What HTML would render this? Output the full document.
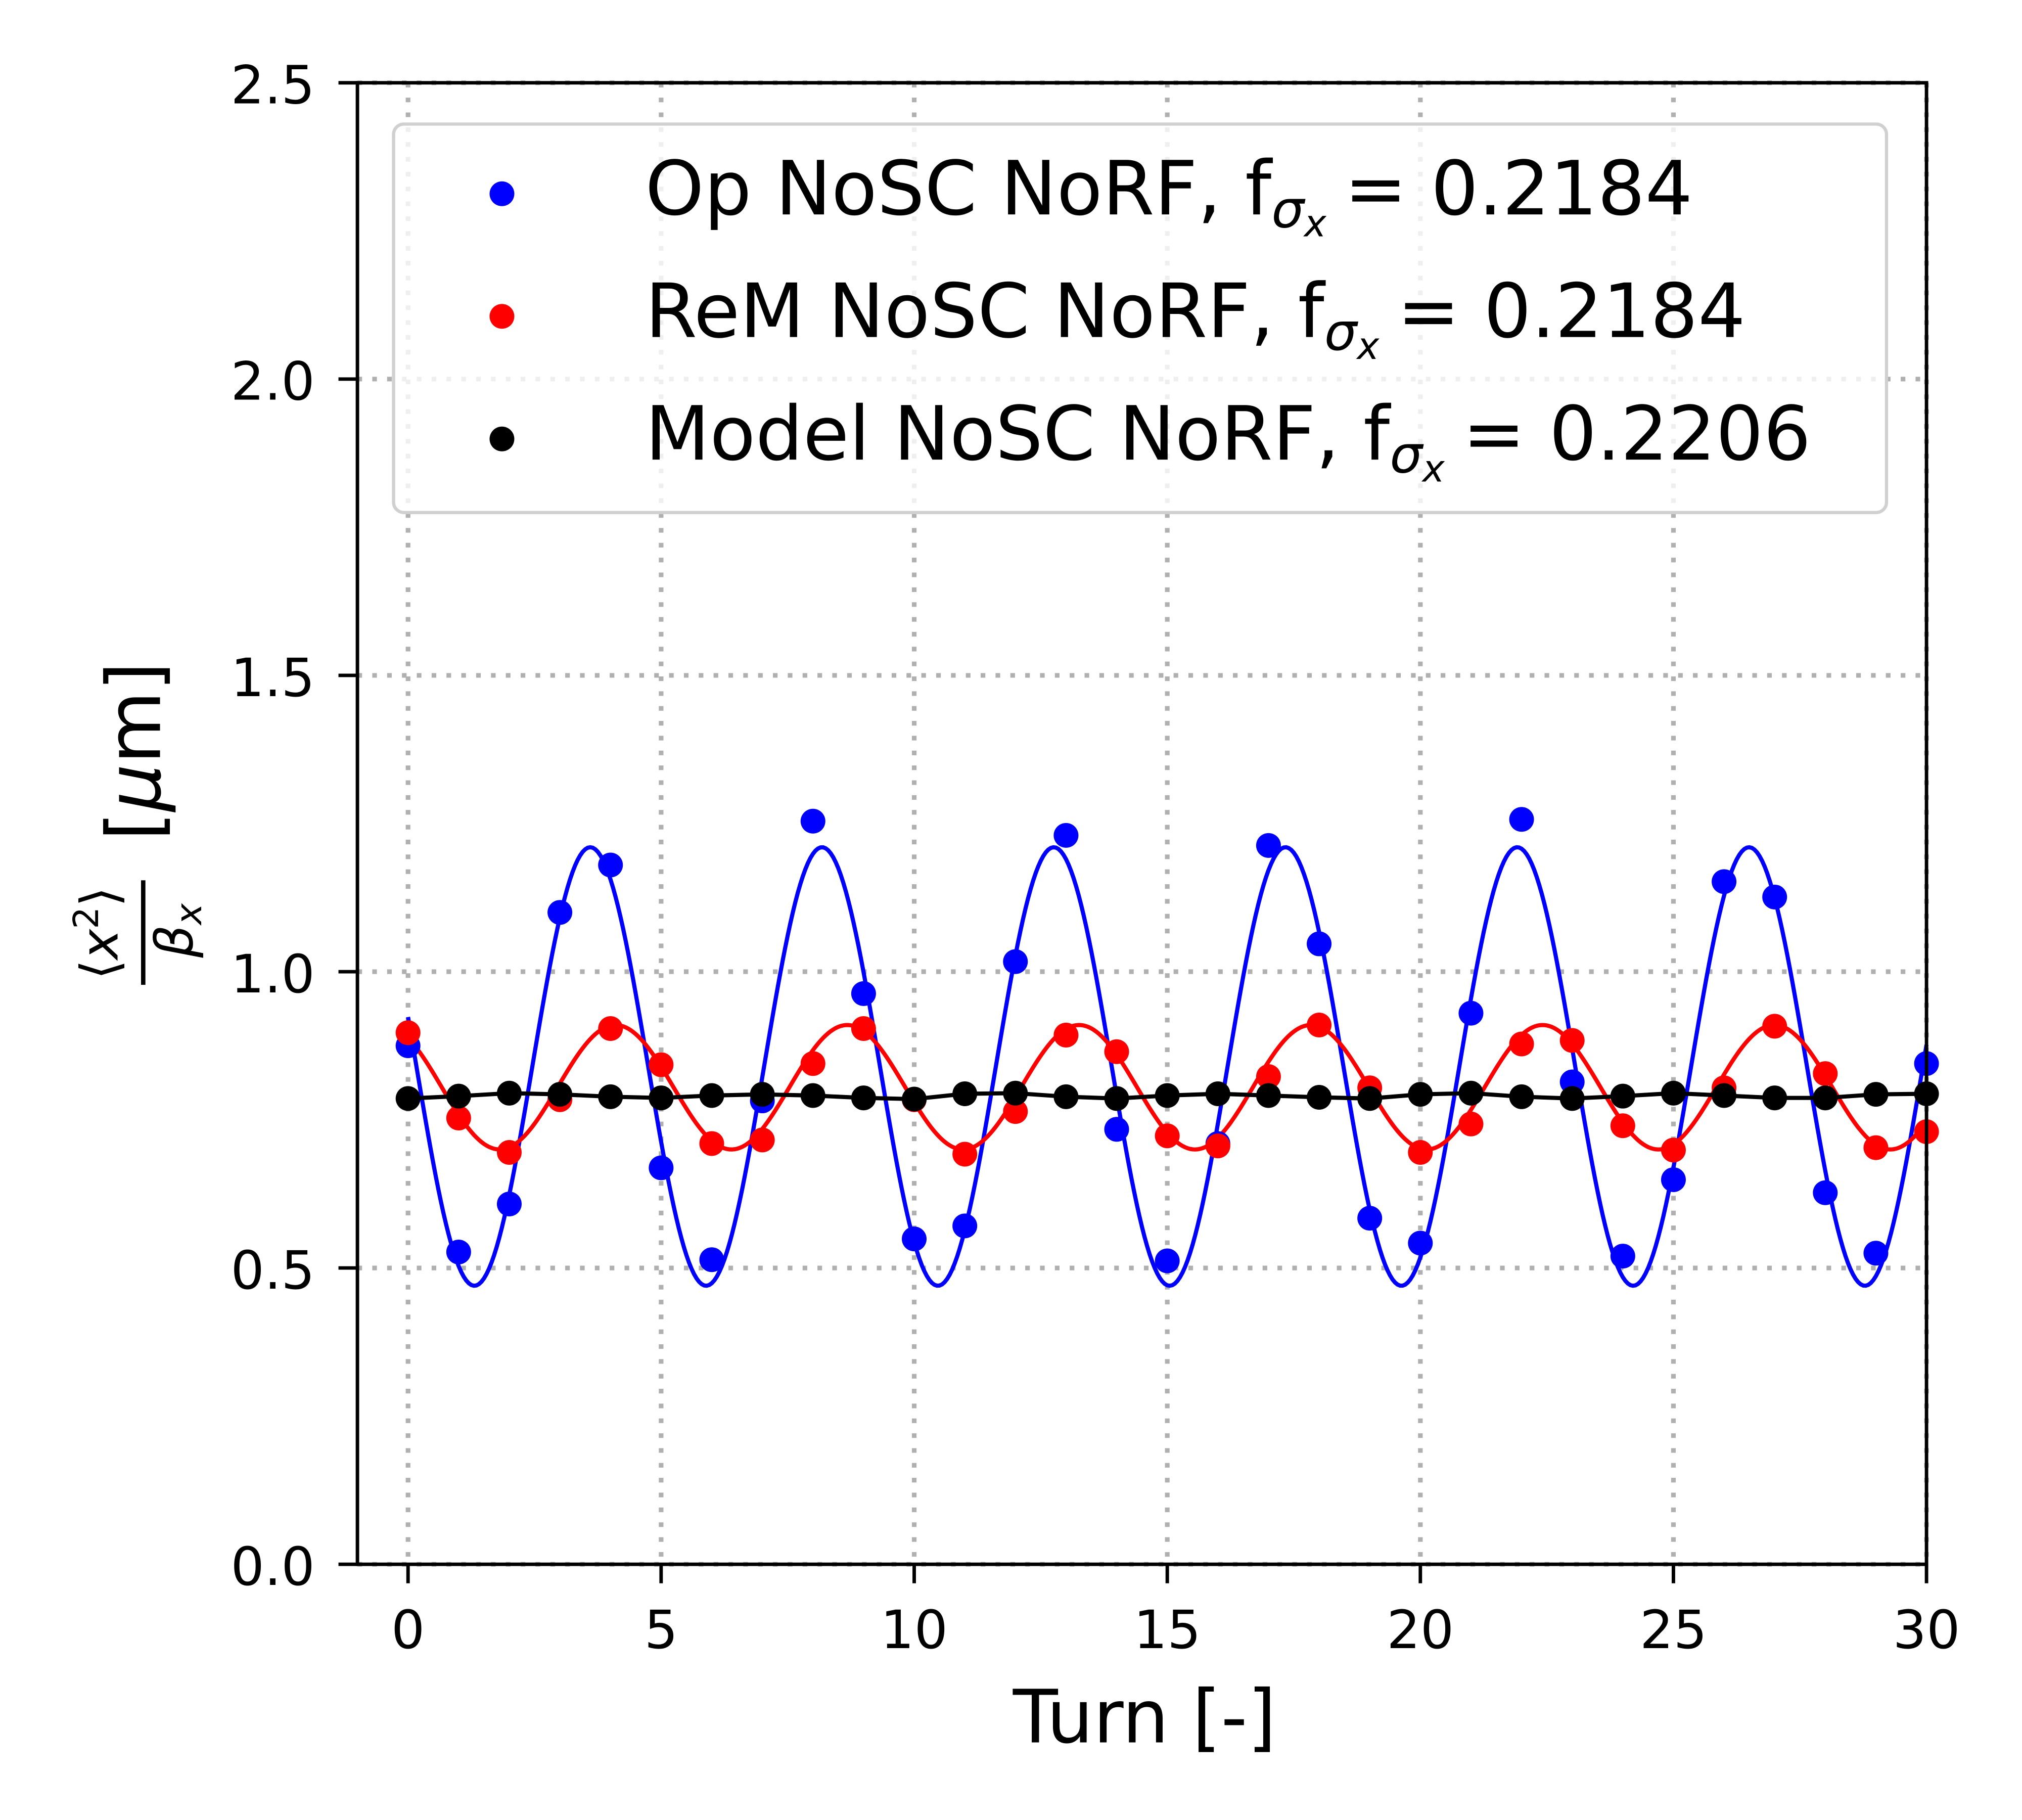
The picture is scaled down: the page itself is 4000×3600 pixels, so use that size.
<!DOCTYPE html>
<html><head><meta charset="utf-8"><style>
html,body{margin:0;padding:0;background:#fff;}
svg{display:block;font-family:"DejaVu Sans","Liberation Sans",sans-serif;}
</style></head><body>
<svg id="chart" width="4000" height="3600" viewBox="0 0 1567 1410" xmlns="http://www.w3.org/2000/svg">
<rect width="1567" height="1410" fill="#fff"/>
<g id="grid"></g>
<g id="series"></g>
<rect x="277" y="64" width="1216" height="1148" fill="none" stroke="#000" stroke-width="2.7"/>
<g id="ticks"></g>
<text x="887" y="1350" font-size="57" text-anchor="middle">Turn [-]</text>
<g transform="rotate(-90)">
<text x="-723" y="91" font-size="40" text-anchor="middle"><tspan>⟨</tspan><tspan font-style="italic">x</tspan><tspan font-size="27" dy="-15">2</tspan><tspan dy="15">⟩</tspan></text>
<line x1="-763" y1="111" x2="-682" y2="111" stroke="#000" stroke-width="3.4"/>
<text x="-742" y="149" font-size="40" font-style="italic">β<tspan font-size="28" dy="7">x</tspan></text>
<text x="-582" y="124" font-size="58" text-anchor="middle">[<tspan font-style="italic">μ</tspan>m]</text>
</g>
<g>
<rect x="305" y="96" width="1157" height="301" rx="8" fill="#fff" fill-opacity="0.8" stroke="#d0d0d0" stroke-width="2.5"/>
<circle cx="389" cy="150" r="9.6" fill="#0000ff"/>
<text x="500" y="166" font-size="58">Op NoSC NoRF, f<tspan font-size="40" dy="10" font-style="italic">σ</tspan><tspan font-size="29" dy="7" font-style="italic">x</tspan><tspan dy="-17" dx="14">= 0.2184</tspan></text>
<circle cx="389" cy="245" r="9.6" fill="#ff0000"/>
<text x="500" y="261" font-size="58">ReM NoSC NoRF, f<tspan font-size="40" dy="10" font-style="italic">σ</tspan><tspan font-size="29" dy="7" font-style="italic">x</tspan><tspan dy="-17" dx="14">= 0.2184</tspan></text>
<circle cx="389" cy="340" r="9.6" fill="#000"/>
<text x="500" y="356" font-size="58">Model NoSC NoRF, f<tspan font-size="40" dy="10" font-style="italic">σ</tspan><tspan font-size="29" dy="7" font-style="italic">x</tspan><tspan dy="-17" dx="14">= 0.2206</tspan></text>
</g>
</svg>
<script>
const turns=[0,1,2,3,4,5,6,7,8,9,10,11,12,13,14,15,16,17,18,19,20,21,22,23,24,25,26,27,28,29,30];
const opValues=[0.875,0.527,0.608,1.10,1.18,0.669,0.514,0.782,1.254,0.963,0.549,0.571,1.017,1.230,0.734,0.512,0.71,1.213,1.047,0.584,0.542,0.930,1.257,0.814,0.520,0.649,1.152,1.126,0.627,0.525,0.845];
const remValues=[0.897,0.753,0.695,0.784,0.904,0.843,0.710,0.716,0.845,0.904,0.784,0.692,0.764,0.893,0.865,0.723,0.706,0.823,0.910,0.804,0.695,0.743,0.878,0.884,0.740,0.699,0.804,0.908,0.828,0.703,0.730];
const modelValues=[0.786,0.790,0.795,0.793,0.789,0.787,0.791,0.793,0.791,0.787,0.785,0.794,0.795,0.789,0.786,0.791,0.794,0.791,0.788,0.786,0.793,0.795,0.789,0.786,0.790,0.795,0.791,0.787,0.787,0.793,0.794];
// fit parameters: [mean, amplitude, frequency, peak turn]
const opFit=[0.84,0.37,0.2184,3.6];
const remFit=[0.805,0.105,0.2184,4.1];
const xTicks=[0,5,10,15,20,25,30];
const yTicks=[0.0,0.5,1.0,1.5,2.0,2.5];
const yTickLabels=["0.0","0.5","1.0","1.5","2.0","2.5"];

const NS="http://www.w3.org/2000/svg";
const X0=277,X1=1493,Y0=1212,Y1=64,xmin=-1,xmax=30,ymin=0,ymax=2.5;
const xs=v=>X0+(v-xmin)/(xmax-xmin)*(X1-X0);
const ys=v=>Y0-(v-ymin)/(ymax-ymin)*(Y0-Y1);
function mk(tag,attrs,parent){const e=document.createElementNS(NS,tag);for(const k in attrs)e.setAttribute(k,attrs[k]);parent.appendChild(e);return e;}
const grid=document.getElementById('grid'),ticks=document.getElementById('ticks'),series=document.getElementById('series');
xTicks.forEach(t=>{
 const g=mk('line',{x1:xs(t),x2:xs(t),y1:Y1,y2:Y0,stroke:'#b0b0b0','stroke-width':3.6,'stroke-dasharray':'3.6,7.9'},grid);
 
 
 const tk=mk('line',{x1:xs(t),x2:xs(t),y1:Y0,y2:Y0+14.7,stroke:'#000','stroke-width':2.7},ticks);
 
 
 const tx=mk('text',{x:xs(t),y:1277,'font-size':41,'text-anchor':'middle'},ticks);
 tx.textContent=String(t);
 
 
});
yTicks.forEach((t,i)=>{
 const g=mk('line',{x1:X0,x2:X1,y1:ys(t),y2:ys(t),stroke:'#b0b0b0','stroke-width':3.6,'stroke-dasharray':'3.6,7.9'},grid);
 
 
 const tk=mk('line',{x1:X0-14.7,x2:X0,y1:ys(t),y2:ys(t),stroke:'#000','stroke-width':2.7},ticks);
 
 
 const tx=mk('text',{x:244,y:ys(t)+16,'font-size':41,'text-anchor':'end'},ticks);
 tx.textContent=yTickLabels[i];
 
 
});
function fitPath(p){let d='';for(let i=0;i<=600;i++){const t=i/600*30;const v=p[0]+p[1]*Math.cos(2*Math.PI*p[2]*(t-p[3]));d+=(i?'L':'M')+xs(t).toFixed(2)+','+ys(v).toFixed(2);}return d;}
const opLine=mk('path',{d:fitPath(opFit),fill:'none',stroke:'#0000ff','stroke-width':3.2},series);


const remLine=mk('path',{d:fitPath(remFit),fill:'none',stroke:'#ff0000','stroke-width':3.2},series);


const modelLine=mk('path',{d:turns.map((t,i)=>(i?'L':'M')+xs(t)+','+ys(modelValues[i])).join(''),fill:'none',stroke:'#000','stroke-width':3.2},series);


[[opValues,'#0000ff','op-point'],[remValues,'#ff0000','rem-point'],[modelValues,'#000','model-point']].forEach(([vals,col,nm])=>{
 turns.forEach((t,i)=>{
  const c=mk('circle',{cx:xs(t),cy:ys(vals[i]),r:9.6,fill:col},series);
  
  
 });
});
</script>
</body></html>
